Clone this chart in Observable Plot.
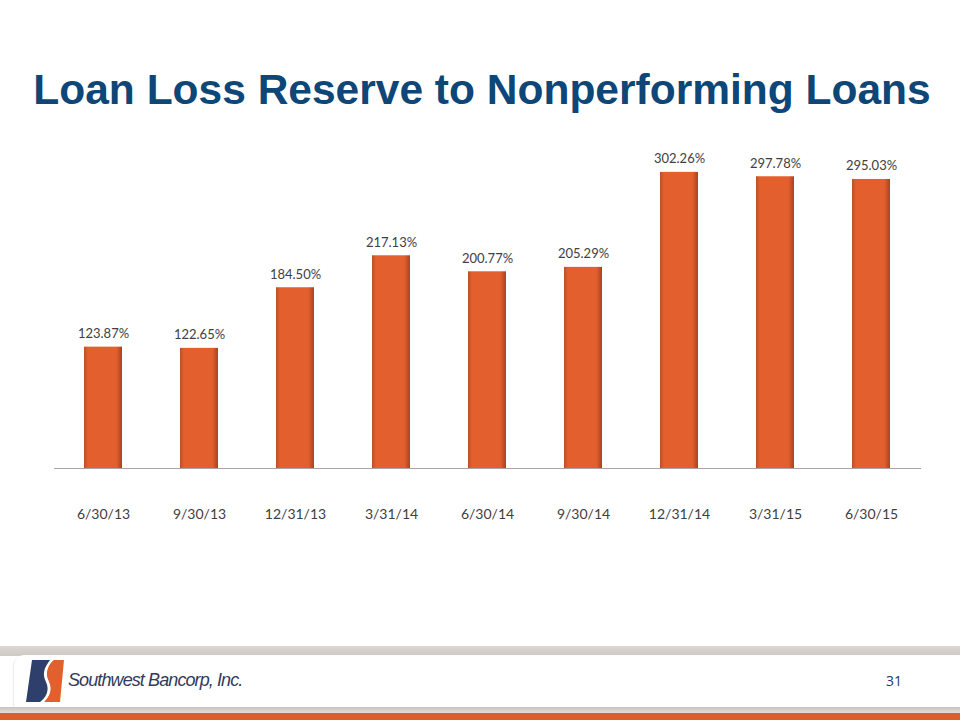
<!DOCTYPE html>
<html>
<head>
<meta charset="utf-8">
<script src="https://cdn.jsdelivr.net/npm/d3@7"></script>
<script src="https://cdn.jsdelivr.net/npm/@observablehq/plot@0.6"></script>
<style>
  html, body { margin: 0; padding: 0; background: #fff; }
  #page { position: relative; width: 960px; height: 720px; overflow: hidden; background: #fff; font-family: "Liberation Sans", Arial, sans-serif; }
  #title { position: absolute; left: 0; top: 66px; width: 964px; text-align: center; font-weight: bold; font-size: 42.5px; color: #0d4677; }
  #chart { position: absolute; left: 0; top: 130px; }
  #grayband { position: absolute; left: 0; top: 646px; width: 960px; height: 10px; background: linear-gradient(#ddd6d3, #cfc9c6); }
  #panel { position: absolute; left: 14px; top: 655px; width: 960px; height: 52px; background: #fff; border-top-left-radius: 10px; box-shadow: 0 1px 2px #bbb; }
  #line2 { position: absolute; left: 0; top: 707px; width: 960px; height: 6px; background: linear-gradient(#c9c3c0, #e3dedb); }
  #orange { position: absolute; left: 0; top: 713px; width: 960px; height: 7px; background: #d8602f; }
  #brand { position: absolute; left: 68px; top: 670px; font-family: "Liberation Sans", Arial, sans-serif; font-style: italic; font-size: 18px; color: #333a5c; letter-spacing: -0.9px; }
  #pagenum { position: absolute; left: 886px; top: 671px; font-family: "Open Sans", sans-serif; font-size: 14px; color: #1f3d5e; }
  #logo { position: absolute; left: 24px; top: 658px; }
</style>
</head>
<body>
<div id="page">
  <div id="title">Loan Loss Reserve to Nonperforming Loans</div>
  <div id="chart"></div>
  <div id="grayband"></div>
  <div id="panel"></div>
  <div id="line2"></div>
  <div id="orange"></div>
  <svg id="logo" width="42" height="46" viewBox="0 0 42 46">
    <path d="M8 2 L26 2 C20 10 18 16 22 24 C26 32 22 40 16 44 L2 44 Z" fill="#2e3f6b"/>
    <path d="M30 2 L40 2 L36 44 L20 44 C26 38 28 30 24 22 C20 14 24 6 30 2 Z" fill="#e1602d"/>
    <path d="M27 2 C21 10 19 16 23 24 C27 32 23 40 17 44 L19 44 C25 40 29 32 25 24 C21 16 23 9 29 2 Z" fill="#ffffff"/>
  </svg>
  <div id="brand">Southwest Bancorp, Inc.</div>
  <div id="pagenum">31</div>
</div>
<script>
const dates = ["6/30/13", "9/30/13", "12/31/13", "3/31/14", "6/30/14", "9/30/14", "12/31/14", "3/31/15", "6/30/15"];
const ratios = [123.87, 122.65, 184.50, 217.13, 200.77, 205.29, 302.26, 297.78, 295.03];
const labels = ["123.87%", "122.65%", "184.50%", "217.13%", "200.77%", "205.29%", "302.26%", "297.78%", "295.03%"];

const data = dates.map((d, i) => ({date: d, value: ratios[i], label: labels[i]}));

const defs = () => {
  const g = d3.create("svg:defs");
  const lg = g.append("linearGradient").attr("id", "barGrad").attr("x1", "0").attr("x2", "1").attr("y1", "0").attr("y2", "0");
  lg.append("stop").attr("offset", "0%").attr("stop-color", "#b9502a");
  lg.append("stop").attr("offset", "10%").attr("stop-color", "#e45f2e");
  lg.append("stop").attr("offset", "85%").attr("stop-color", "#e45f2e");
  lg.append("stop").attr("offset", "100%").attr("stop-color", "#a9431f");
  return g.node();
};

const chart = Plot.plot({
  width: 960,
  height: 420,
  marginLeft: 54,
  marginRight: 39,
  marginTop: 0,
  marginBottom: 82,
  style: {fontFamily: "Lato, 'Open Sans', sans-serif", fontSize: "14px", color: "#404040", background: "transparent"},
  x: {domain: dates, paddingInner: 0.6, paddingOuter: 0.3, label: null, tickSize: 0, tickPadding: 41},
  y: {domain: [0, 345], axis: null},
  marks: [
    defs,
    Plot.barY(data, {x: "date", y: "value", fill: "url(#barGrad)"}),
    Plot.barY(data, {x: "date", y1: d => d.value, y2: d => d.value - 3, fill: "#f08a5d", inset: 2}),
    Plot.ruleY([0], {stroke: "#a6a6a6", strokeWidth: 1.2}),
    Plot.text(data, {x: "date", y: "value", text: "label", dy: -9, lineAnchor: "bottom", fill: "#404040", fontSize: 13})
  ]
});
document.getElementById("chart").appendChild(chart);
</script>
</body>
</html>
